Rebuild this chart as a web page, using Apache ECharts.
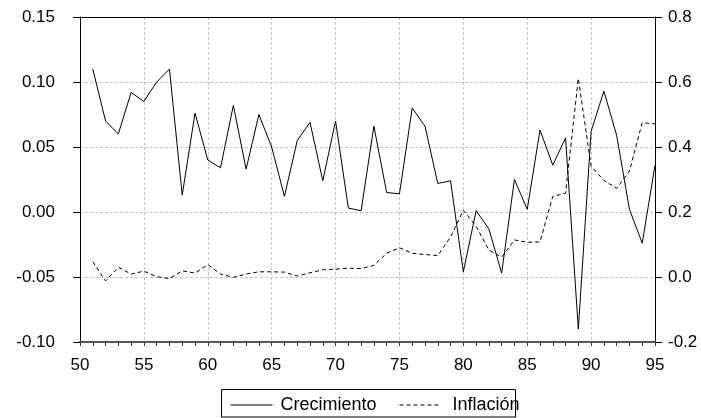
<!DOCTYPE html>
<html>
<head>
<meta charset="utf-8">
<script src="https://cdn.jsdelivr.net/npm/echarts@6/dist/echarts.min.js"></script>
<style>html,body{margin:0;padding:0;background:#fff}#c{width:701px;height:418px}</style>
</head>
<body>
<div id="c"></div>
<script>
const years = [51,52,53,54,55,56,57,58,59,60,61,62,63,64,65,66,67,68,69,70,71,72,73,74,75,76,77,78,79,80,81,82,83,84,85,86,87,88,89,90,91,92,93,94,95];
const crecimiento = [0.110,0.070,0.060,0.092,0.085,0.100,0.110,0.013,0.076,0.040,0.034,0.082,0.033,0.075,0.050,0.012,0.055,0.069,0.024,0.070,0.003,0.001,0.066,0.015,0.014,0.080,0.066,0.022,0.024,-0.046,0.001,-0.013,-0.047,0.025,0.002,0.063,0.036,0.057,-0.090,0.062,0.093,0.059,0.002,-0.024,0.036];
const inflacion = [0.047,-0.012,0.030,0.009,0.018,0.001,-0.005,0.019,0.012,0.038,0.009,-0.001,0.009,0.016,0.016,0.015,0.003,0.013,0.022,0.024,0.027,0.026,0.036,0.073,0.090,0.073,0.069,0.066,0.123,0.205,0.156,0.083,0.061,0.114,0.107,0.108,0.248,0.258,0.611,0.341,0.297,0.273,0.326,0.475,0.471];
const xTicks = [50,55,60,65,70,75,80,85,90,95];

const chart = echarts.init(document.getElementById('c'), null, {renderer:'canvas'});
const font = 'Liberation Sans, Arial, sans-serif';
const gridLine = {show:true, lineStyle:{color:'#c4c4c4', type:[3,2], width:1}};
const legendBase = {top:396, padding:0, itemWidth:42, itemHeight:12, itemStyle:{opacity:0}, lineStyle:{width:1}};
chart.setOption({
  animation:false,
  backgroundColor:'#fff',
  grid:{left:80, right:46, top:17, bottom:76},
  xAxis:[
   {type:'value', min:50, max:95, interval:5, position:'bottom',
    axisLine:{show:true, onZero:false, lineStyle:{color:'#555', width:2}},
    axisTick:{show:true, inside:false, length:4, lineStyle:{color:'#333'}},
    minorTick:{show:true, splitNumber:5, length:4, lineStyle:{color:'#333'}},
    axisLabel:{color:'#000', fontSize:17, fontFamily:font, margin:15},
    splitLine:gridLine},
   {type:'value', min:50, max:95, interval:5, position:'top',
    axisLine:{show:true, onZero:false, lineStyle:{color:'#000', width:1}},
    axisTick:{show:false}, axisLabel:{show:false}, splitLine:{show:false}}
  ],
  yAxis:[
    {type:'value', min:-0.10, max:0.15, interval:0.05, position:'left',
     axisLine:{show:true, lineStyle:{color:'#000'}},
     axisTick:{show:true, length:7, lineStyle:{color:'#000'}},
     axisLabel:{color:'#000', fontSize:17, fontFamily:font, margin:25, formatter:v=>v.toFixed(2)},
     splitLine:gridLine},
    {type:'value', min:-0.2, max:0.8, interval:0.2, position:'right',
     axisLine:{show:true, lineStyle:{color:'#000'}},
     axisTick:{show:true, length:7, lineStyle:{color:'#000'}},
     axisLabel:{color:'#000', fontSize:17, fontFamily:font, margin:13, formatter:v=>v.toFixed(1)},
     splitLine:{show:false}}
  ],
  legend:[
    Object.assign({}, legendBase, {left:230, data:['Crecimiento'],
      textStyle:{color:'#000', fontSize:18, fontFamily:font, padding:[9,0,0,3]}}),
    Object.assign({}, legendBase, {left:399, itemWidth:41, data:['Inflación'],
      textStyle:{color:'#000', fontSize:18, fontFamily:font, padding:[9,0,0,7]}})
  ],
  graphic:[{type:'rect', shape:{x:221.5, y:389.5, width:294, height:27.5}, style:{fill:'none', stroke:'#000', lineWidth:1}, silent:true, z:-1}],
  series:[
    {name:'Crecimiento', type:'line', xAxisIndex:0, yAxisIndex:0, symbol:'none', showSymbol:false,
     lineStyle:{color:'#000', width:1}, itemStyle:{color:'#000'},
     data:years.map((y,i)=>[y, crecimiento[i]])},
    {name:'Inflación', type:'line', xAxisIndex:0, yAxisIndex:1, symbol:'none', showSymbol:false,
     lineStyle:{color:'#000', width:1, type:[4,3]}, itemStyle:{color:'#000'},
     data:years.map((y,i)=>[y, inflacion[i]])}
  ]
});
</script>
</body>
</html>
